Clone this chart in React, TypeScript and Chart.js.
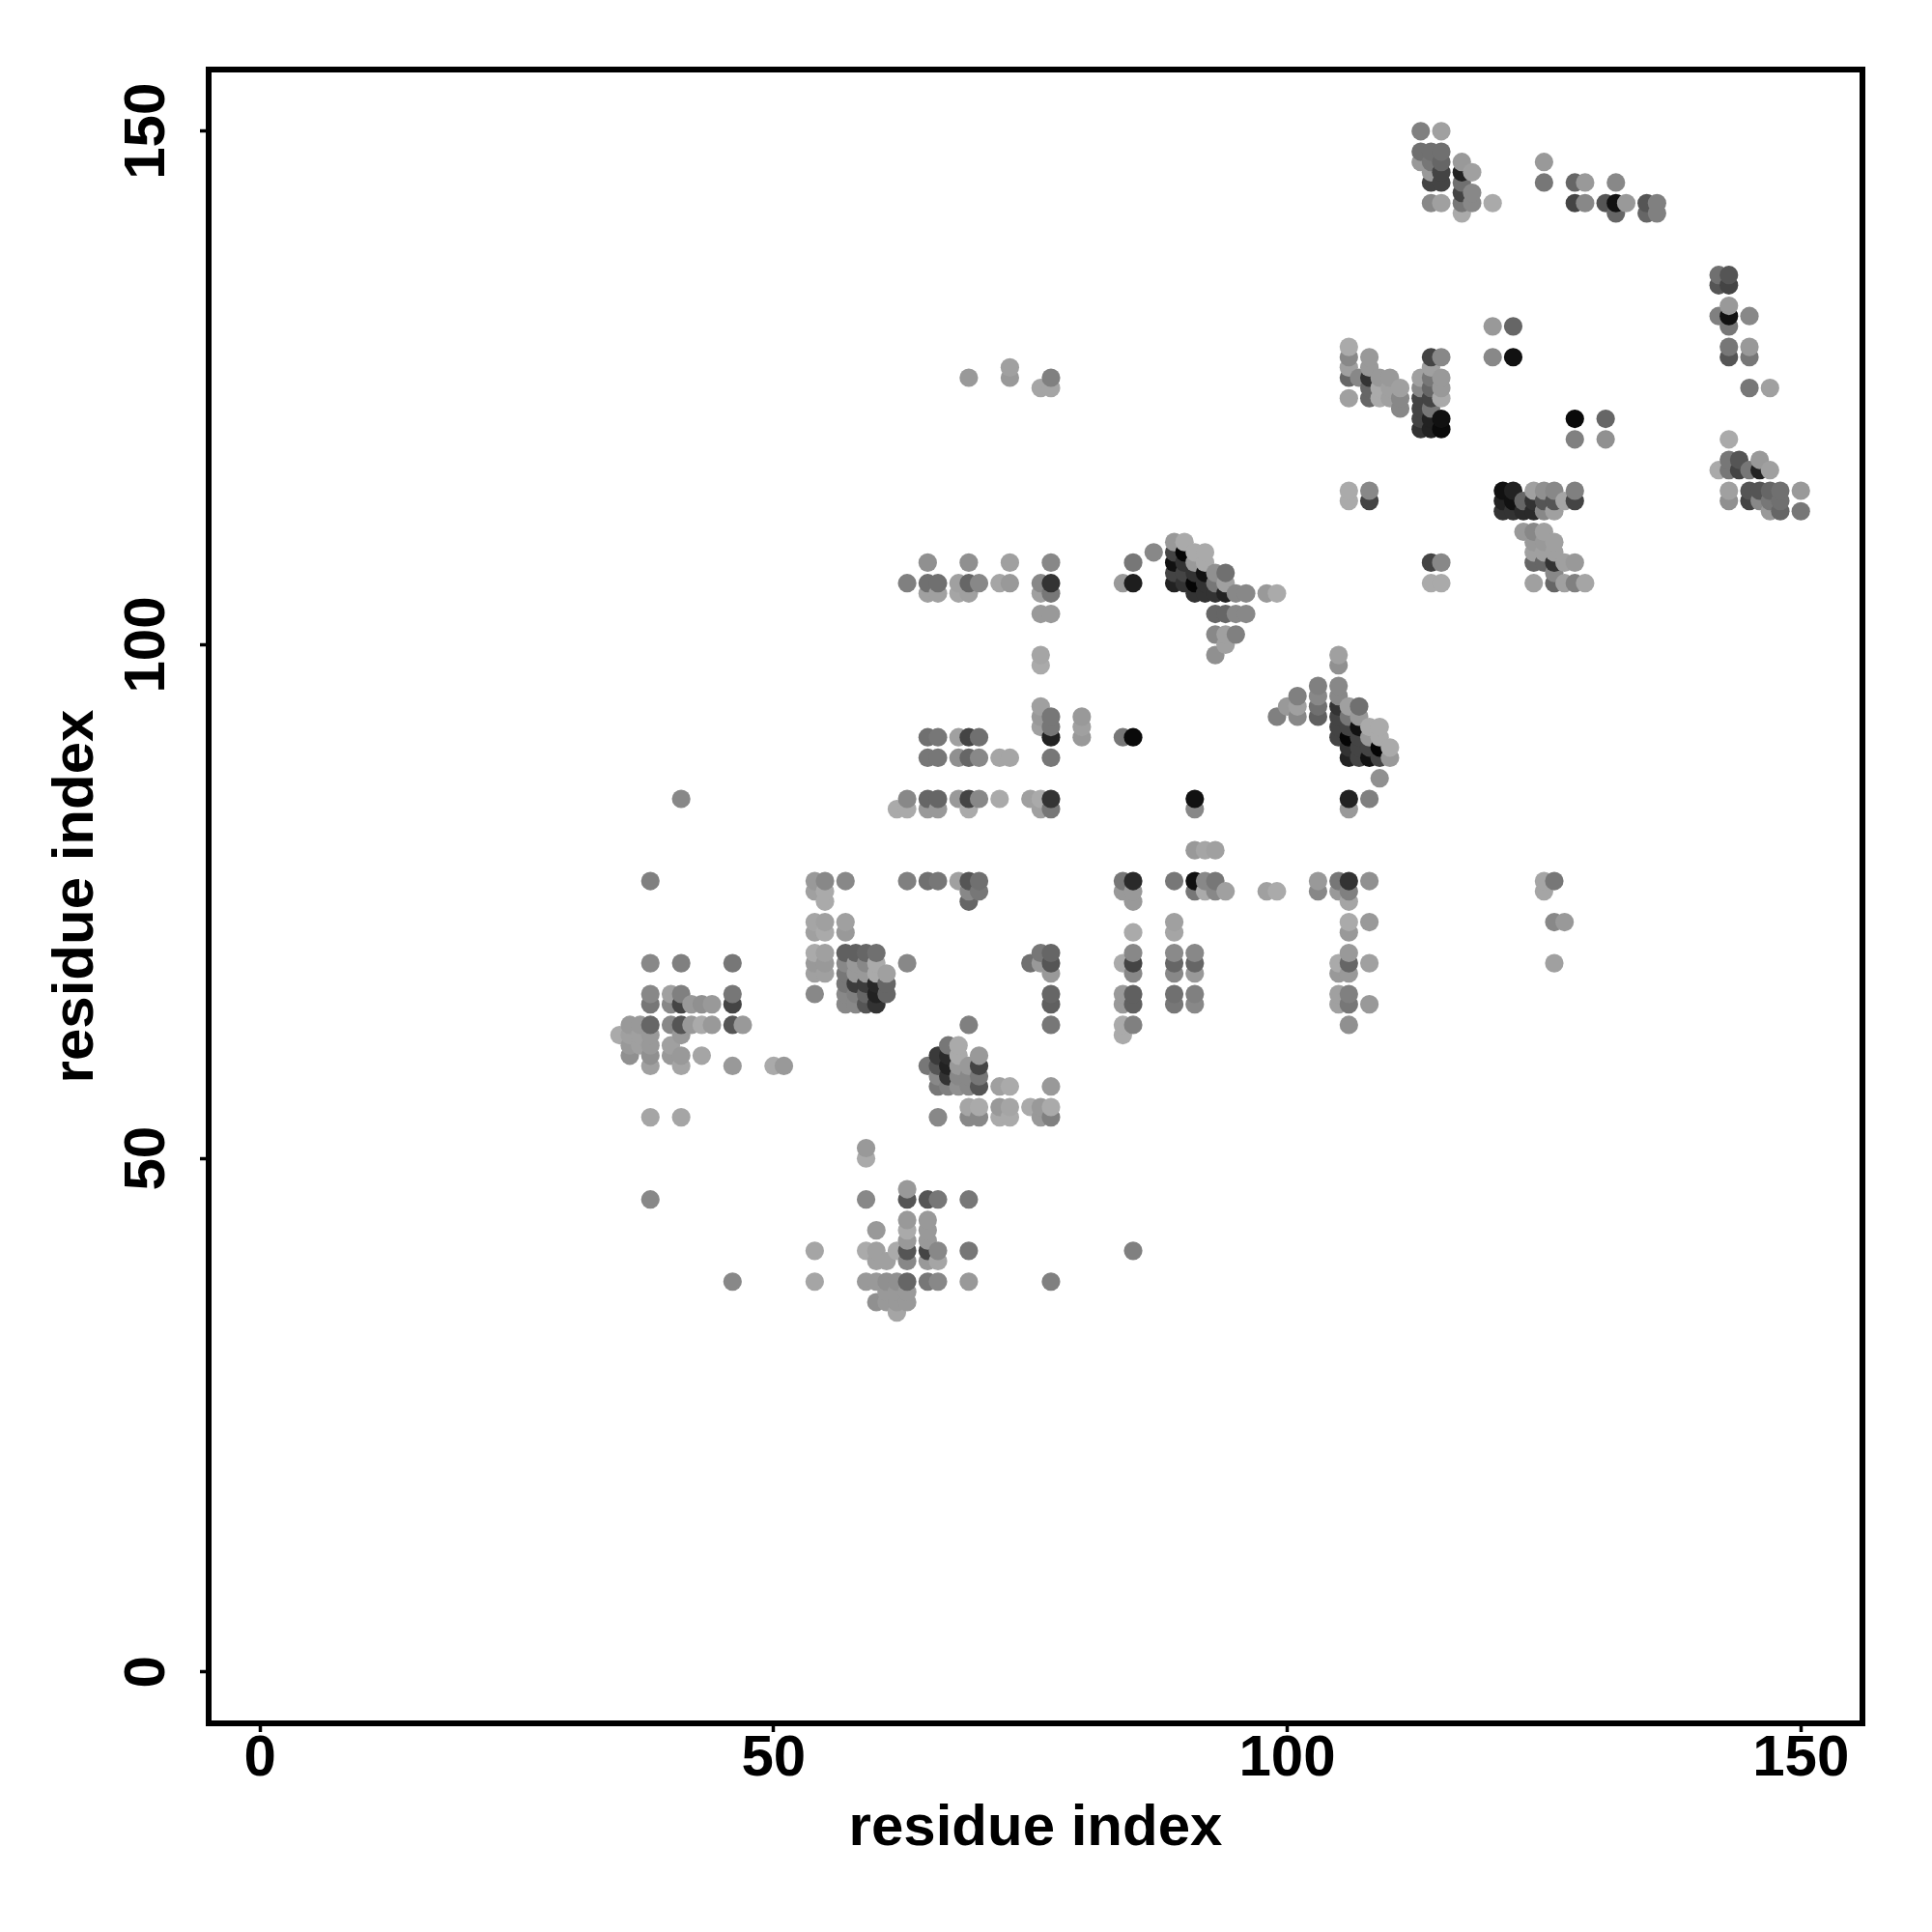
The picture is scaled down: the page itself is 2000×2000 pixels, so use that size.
import React, { useEffect, useRef } from "react";
import Chart from "chart.js/auto";

const tickValues = [0, 50, 100, 150];
const axisTitle = "residue index";
const axisMin = -5;
const axisMax = 156;

const rowY = [150,148,147,146,145,144,143,142,136,135,133,132,131,129,128,127,126,125,124,123,122,121,120,118,117,115,114,113,111,110,109,108,107,106,105,103,101,100,99,98,96,95,94,93,92,91,90,89,87,85,84,80,77,76,75,73,72,70,69,68,67,66,65,63,62,61,60,59,58,57,55,54,51,50,47,46,44,43,42,41,40,38,37,36,35];

const rowX = [
  [113,115],
  [113,114,115],
  [113,114,115,117,125],
  [114,115,117,118],
  [114,115,117,125,128,129,132],
  [117,118],
  [114,115,117,118,120,128,129,131,132,133,135,136],
  [117,132,135,136],
  [142,143],
  [142,143],
  [143],
  [142,143,145],
  [120,122,143],
  [106,143,145],
  [106,108,114,115,120,122,143,145],
  [73,106,108,114],
  [69,73,77,106,107,108,109,110,113,114,115],
  [76,77,108,109,110,111,113,114,115,145,147],
  [106,108,109,110,111,113,114,115],
  [111,113,114],
  [113,114,115,128,131],
  [113,114,115],
  [128,131,143],
  [143,144,146],
  [142,143,144,145,146,147],
  [106,108,121,122,124,125,126,128,143,145,146,147,148,150],
  [106,108,121,122,123,124,125,126,127,128,143,145,146,147,148],
  [121,122,123,124,125,126,147,148,150],
  [123,124,125],
  [89,90,124,125,126],
  [87,89,90,91,92,124,125,126],
  [65,69,73,77,85,89,90,91,92,114,115,124,125,126,127,128],
  [89,90,91,92,93,94,126],
  [63,65,66,68,69,70,72,73,76,77,84,85,89,90,91,92,93,94,114,115,124,126,127,128,129],
  [65,66,68,69,76,77,91,92,93,94,95,96,98,99],
  [76,77,93,94,95,96],
  [93,94,95],
  [94],
  [76,93,105],
  [76,105],
  [103,105],
  [101,103,105],
  [76,100,101,103,105,106,107],
  [76,77,80,99,101,103,105,106,107],
  [76,77,80,105,106,107,108,109],
  [65,66,68,69,70,77,80,84,85,105,106,107,108,109],
  [106,107,108,109,110],
  [65,66,68,69,70,72,73,77,106,107,108,109,110],
  [109],
  [41,63,65,66,68,69,70,72,75,76,77,91,106,108],
  [62,63,65,66,69,76,77,91,106],
  [91,92,93],
  [38,54,55,57,63,65,66,68,69,70,84,85,89,91,92,93,103,105,106,108,125,126],
  [54,55,69,70,84,85,91,92,93,94,98,99,103,105,106,125],
  [55,69,85,106],
  [54,55,57,89,106,108,126,127],
  [54,55,57,85,89,106],
  [54,55,57,58,59,60,76,77,85,89,91,106],
  [38,41,46,54,55,57,58,59,60,63,75,76,77,84,85,89,91,105,106,108,126],
  [54,55,57,58,59,60,61,77,85,89,91,105,106],
  [57,58,59,60,61],
  [38,40,41,46,54,57,58,59,60,61,77,84,85,89,91,105,106],
  [38,40,41,42,43,44,46,57,58,59,60,77,84,85,89,91,105,106,108],
  [36,37,38,40,41,42,43,44,46,47,69,77,84,85,106],
  [35,36,37,38,41,84],
  [36,37,38,40,67,68],
  [36,38,40,41,43,66,67,68,70],
  [38,41,46,50,51,65,66,67,68,69,70],
  [66,67,68,69,70],
  [66,67,68,69,70,72,73,77],
  [69,70,72,73,75,76,77],
  [38,41,66,69,70,72,73,76,77],
  [59],
  [59],
  [63],
  [38,59,63,65,66,69],
  [63,65],
  [60,63,65],
  [63,65],
  [54,59,60,62,63,65,66,69,85],
  [60,61,63,65,66],
  [46,54,59,60,61,62,63,65,66,69,77],
  [61,62,63],
  [60,61,62,63],
  [62],
];

const rowShade = [
  [128,160],
  [112,112,112],
  [153,119,102,153,153],
  [153,68,34,160],
  [68,68,112,119,102,153,136],
  [68,136],
  [136,160,119,136,170,68,136,85,17,153,85,128],
  [170,102,102,128],
  [112,85],
  [85,68],
  [153],
  [128,17,136],
  [153,102,119],
  [170,119,153],
  [136,153,68,136,136,17,85,119],
  [160,160,153,160],
  [153,153,128,102,136,51,153,153,160,119,153],
  [165,165,102,170,160,160,136,102,153,119,160],
  [160,102,170,160,136,68,68,170],
  [136,68,119],
  [68,34,17,10,102],
  [51,34,10],
  [128,144,170],
  [119,85,153],
  [170,119,68,119,34,160],
  [170,136,17,34,160,144,136,128,160,85,85,102,112,153],
  [170,68,34,17,102,51,85,85,165,68,144,68,136,119,112],
  [51,51,42,42,136,160,153,102,119],
  [153,136,160],
  [153,170,153,153,160],
  [136,68,5,170,170,160,160,160],
  [144,144,160,136,119,17,51,153,170,68,136,102,102,51,160,153],
  [68,68,51,17,144,112,136],
  [128,112,112,160,102,136,165,153,136,51,153,30,34,51,5,51,119,160,170,170,160,102,160,128,165],
  [160,160,165,160,160,119,51,51,51,34,136,136,153,170],
  [153,153,102,102,136,136],
  [136,160,128],
  [160],
  [165,144,160],
  [170,144],
  [128,136],
  [128,136,136],
  [160,153,160,112,51,160,112],
  [153,119,153,128,136,96,68,119,153],
  [160,119,160,68,68,17,170,170],
  [112,119,160,68,112,34,153,119,10,68,5,68,153,170],
  [51,68,68,5,170],
  [119,119,144,102,136,165,165,119,34,68,17,68,153],
  [144],
  [136,136,102,102,153,68,136,170,160,170,51,17,34,128],
  [170,170,153,153,170,160,119,136,153],
  [153,165,160],
  [128,153,136,136,128,112,119,160,85,112,119,42,119,17,136,119,153,119,51,144,165,119],
  [160,170,136,119,153,153,119,170,136,160,160,170,136,153,128,165],
  [170,102,153,165],
  [165,160,160,160,170,153,136,153],
  [160,170,153,170,165,153],
  [170,160,96,96,102,112,119,102,136,138,136,153],
  [136,128,119,153,153,136,153,136,170,136,112,153,85,170,68,102,102,170,102,160,160],
  [160,160,119,153,153,170,160,153,136,136,153,153,153],
  [119,60,60,40,102],
  [136,160,128,119,136,136,128,102,34,102,102,153,96,112,128,160,128],
  [119,136,68,153,144,153,68,136,136,85,51,96,153,96,119,136,160,119,153],
  [153,153,102,136,85,153,170,153,85,153,128,119,170,128,144],
  [170,160,160,153,153,170],
  [153,160,153,160,119,170],
  [144,144,153,153,165,58,42,170,153],
  [160,165,153,170,153,119,85,34,153,153,68],
  [136,51,136,136,119],
  [119,128,144,136,85,160,170,153],
  [165,170,153,165,170,153,170],
  [165,165,136,136,136,170,170,153,128],
  [153],
  [170],
  [153],
  [136,136,85,85,119,119],
  [153,153],
  [153,170,153],
  [153,153],
  [165,170,160,170,85,68,136,119,128],
  [160,160,136,153,165],
  [136,165,153,153,144,144,102,119,136,153,128],
  [153,153,153],
  [144,153,153,153],
  [165],
];

function buildPoints() {
  const pts: { x: number; y: number; shade: number }[] = [];
  rowY.forEach((y, r) => {
    rowX[r].forEach((x, c) => pts.push({ x, y, shade: rowShade[r][c] }));
  });
  // Later residues paint over earlier ones, as in the reference.
  pts.sort((a, b) => a.x - b.x || a.y - b.y);
  return pts;
}

const FONT = "'Liberation Sans', Arial, sans-serif";

const framePlugin = {
  id: "frame",
  afterDatasetsDraw(chart: any) {
    const { ctx, chartArea: a } = chart;
    ctx.save();
    ctx.strokeStyle = "#000";
    ctx.lineWidth = 6;
    ctx.strokeRect(a.left, a.top, a.right - a.left, a.bottom - a.top);
    ctx.restore();
  },
};

export default function App() {
  const ref = useRef<HTMLCanvasElement>(null);
  useEffect(() => {
    if (!ref.current) return;
    const pts = buildPoints();
    const gridOpts = {
      drawOnChartArea: false,
      drawTicks: true,
      tickLength: 9,
      tickWidth: 3.5,
      tickColor: "#000",
    };
    const fixTicks = (s: any) => {
      s.ticks = tickValues.map((value) => ({ value }));
    };
    const chart = new Chart(ref.current, {
      type: "scatter",
      data: {
        datasets: [
          {
            data: pts.map((p) => ({ x: p.x, y: p.y })),
            pointBackgroundColor: pts.map((p) => `rgb(${p.shade},${p.shade},${p.shade})`),
            pointBorderWidth: 0,
            pointRadius: 9.6,
            pointHoverRadius: 9.6,
          },
        ],
      },
      options: {
        responsive: false,
        animation: false,
        devicePixelRatio: 1,
        layout: { padding: { top: 72, right: 72, left: 0, bottom: 0 } },
        plugins: { legend: { display: false }, tooltip: { enabled: false } },
        scales: {
          x: {
            type: "linear",
            min: axisMin,
            max: axisMax,
            afterBuildTicks: fixTicks,
            afterFit: (s: any) => {
              s.height = 216;
            },
            border: { display: false },
            grid: gridOpts,
            ticks: {
              autoSkip: false,
              maxRotation: 0,
              minRotation: 0,
              padding: -8,
              color: "#000",
              font: { family: FONT, size: 60, weight: "bold" },
            },
            title: {
              display: true,
              text: axisTitle,
              color: "#000",
              font: { family: FONT, size: 60, weight: "bold", lineHeight: 1.2 },
              padding: { top: 0, bottom: 70.5 },
            },
          },
          y: {
            type: "linear",
            min: axisMin,
            max: axisMax,
            afterBuildTicks: fixTicks,
            afterFit: (s: any) => {
              s.width = 216;
            },
            border: { display: false },
            grid: gridOpts,
            ticks: {
              autoSkip: false,
              minRotation: 90,
              maxRotation: 90,
              crossAlign: "center",
              padding: 3,
              color: "#000",
              font: { family: FONT, size: 60, weight: "bold" },
            },
            title: {
              display: true,
              text: axisTitle,
              color: "#000",
              font: { family: FONT, size: 60, weight: "bold", lineHeight: 1.2 },
              padding: { top: 43, bottom: 0 },
            },
          },
        },
      },
      plugins: [framePlugin],
    } as any);
    return () => chart.destroy();
  }, []);
  return (
    <canvas
      ref={ref}
      width={2000}
      height={2000}
      style={{ position: "absolute", left: 0, top: 0, display: "block" }}
    />
  );
}
